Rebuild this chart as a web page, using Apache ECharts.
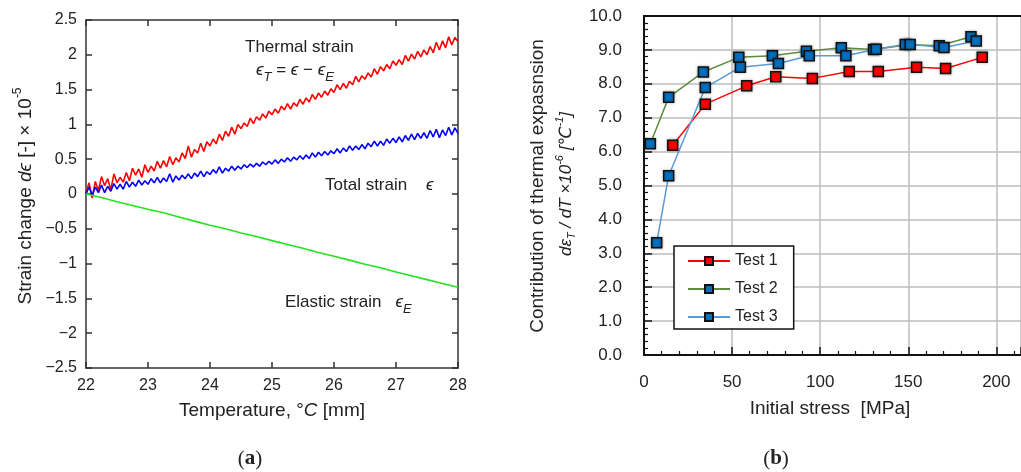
<!DOCTYPE html>
<html><head><meta charset="utf-8">
<script src="https://cdn.jsdelivr.net/npm/echarts@6/dist/echarts.min.js"></script>
<style>html,body{margin:0;padding:0;background:#fff}#c{width:1021px;height:472px}</style>
</head><body><div id="c"></div>
<script>
// ---- (a) strain vs temperature (values in units of 1e-5) ----
const temps = [
22.00,22.05,22.10,22.15,22.20,22.25,22.30,22.35,22.40,22.45,
22.50,22.55,22.60,22.65,22.70,22.75,22.80,22.85,22.90,22.95,
23.00,23.05,23.10,23.15,23.20,23.25,23.30,23.35,23.40,23.45,
23.50,23.55,23.60,23.65,23.70,23.75,23.80,23.85,23.90,23.95,
24.00,24.05,24.10,24.15,24.20,24.25,24.30,24.35,24.40,24.45,
24.50,24.55,24.60,24.65,24.70,24.75,24.80,24.85,24.90,24.95,
25.00,25.05,25.10,25.15,25.20,25.25,25.30,25.35,25.40,25.45,
25.50,25.55,25.60,25.65,25.70,25.75,25.80,25.85,25.90,25.95,
26.00,26.05,26.10,26.15,26.20,26.25,26.30,26.35,26.40,26.45,
26.50,26.55,26.60,26.65,26.70,26.75,26.80,26.85,26.90,26.95,
27.00,27.05,27.10,27.15,27.20,27.25,27.30,27.35,27.40,27.45,
27.50,27.55,27.60,27.65,27.70,27.75,27.80,27.85,27.90,27.95,
28.00];
const thermalStrain = [
0.02,0.16,-0.06,0.18,0.05,0.25,0.12,0.22,0.06,0.29,
0.16,0.24,0.17,0.31,0.19,0.37,0.27,0.36,0.24,0.42,
0.31,0.40,0.33,0.47,0.37,0.48,0.39,0.54,0.42,0.52,
0.46,0.59,0.51,0.69,0.53,0.64,0.59,0.73,0.61,0.75,
0.69,0.79,0.72,0.86,0.77,0.90,0.83,0.96,0.86,1.00,
0.94,1.02,0.97,1.09,1.01,1.11,1.06,1.15,1.09,1.19,
1.14,1.22,1.16,1.26,1.21,1.30,1.22,1.31,1.26,1.36,
1.29,1.38,1.32,1.43,1.36,1.45,1.39,1.48,1.42,1.51,
1.46,1.57,1.50,1.59,1.52,1.62,1.57,1.69,1.61,1.70,
1.65,1.74,1.68,1.80,1.72,1.83,1.77,1.86,1.80,1.91,
1.85,1.93,1.86,1.99,1.91,2.01,1.94,2.05,1.97,2.07,
2.00,2.12,2.03,2.18,2.07,2.20,2.10,2.26,2.14,2.25,
2.19];
const totalStrain = [
0.00,0.10,-0.02,0.10,0.02,0.13,0.02,0.11,0.04,0.15,
0.07,0.14,0.07,0.18,0.10,0.17,0.11,0.20,0.13,0.19,
0.14,0.22,0.16,0.24,0.16,0.23,0.18,0.29,0.17,0.26,
0.20,0.27,0.22,0.29,0.22,0.30,0.25,0.33,0.25,0.32,
0.28,0.35,0.30,0.39,0.30,0.37,0.33,0.40,0.34,0.40,
0.36,0.42,0.38,0.43,0.39,0.44,0.40,0.46,0.42,0.47,
0.43,0.49,0.44,0.50,0.46,0.52,0.47,0.53,0.49,0.55,
0.50,0.56,0.51,0.59,0.53,0.60,0.55,0.61,0.56,0.62,
0.58,0.65,0.59,0.66,0.61,0.69,0.63,0.69,0.64,0.71,
0.65,0.73,0.68,0.76,0.69,0.76,0.70,0.79,0.73,0.80,
0.74,0.82,0.75,0.84,0.77,0.86,0.78,0.87,0.80,0.88,
0.80,0.91,0.82,0.93,0.81,0.92,0.84,0.96,0.85,0.95,
0.87];
const elasticTemps = [22,22.25,22.5,22.75,23,23.25,23.5,23.75,24,24.25,24.5,24.75,25,25.25,25.5,25.75,26,26.25,26.5,26.75,27,27.25,27.5,27.75,28];
const elasticStrain = [0,-0.05,-0.11,-0.165,-0.22,-0.27,-0.33,-0.39,-0.45,-0.50,-0.56,-0.61,-0.67,-0.725,-0.78,-0.84,-0.895,-0.95,-1.01,-1.06,-1.12,-1.175,-1.23,-1.285,-1.34];

// ---- (b) thermal expansion vs initial stress ----
const stress1 = [16.3, 34.8, 58.3, 74.8, 95.6, 116.5, 133, 154.7, 171.2, 192];
const test1   = [6.19, 7.40, 7.94, 8.21, 8.16, 8.36, 8.36, 8.49, 8.45, 8.78];
const stress2 = [3.6, 14, 33.7, 53.8, 72.9, 92.2, 112, 130.3, 148.3, 167.6, 185.6];
const test2   = [6.23, 7.60, 8.35, 8.78, 8.83, 8.96, 9.06, 9.01, 9.16, 9.12, 9.39];
const stress3 = [7.2, 14, 34.8, 54.7, 76.3, 93.8, 114.6, 131.8, 151.1, 170.3, 188.6];
const test3   = [3.31, 5.29, 7.89, 8.49, 8.60, 8.83, 8.83, 9.02, 9.16, 9.07, 9.26];
const seriesNames = ['Test 1', 'Test 2', 'Test 3'];

const zip = (xs, ys) => xs.map((x, i) => [x, ys[i]]);
const FF = 'Liberation Sans, Arial, DejaVu Sans, sans-serif';
const minus = v => String(v).replace('-', '\u2212');

const axL = { onZero: false, lineStyle: { color: '#333', width: 1.5 } };
const tickL = { inside: true, length: 6, lineStyle: { color: '#333', width: 1.5 } };
const axR = { onZero: false, lineStyle: { color: '#111', width: 2 } };
const tickR = { inside: true, length: 8, lineStyle: { color: '#111', width: 1.5 } };
const minorR = { show: true, splitNumber: 5, length: 4, lineStyle: { color: '#111', width: 1.2 } };
const gridLine = { show: true, lineStyle: { color: '#bdbdbd', width: 1.5 } };

function txt(x, y, text, rich, opts) {
  return Object.assign({
    type: 'text', x: x, y: y, z: 100,
    style: Object.assign({ text: text, rich: rich, fill: '#222', align: 'left', verticalAlign: 'middle',
      textAlign: 'left', textVerticalAlign: 'middle', font: '17px ' + FF }, opts && opts.style || {})
  }, opts && opts.el || {});
}
const base = s => ({ fontSize: s, fontFamily: FF, color: '#222' });
const ital = s => ({ fontSize: s, fontFamily: FF, fontStyle: 'italic', color: '#222' });

const chart = echarts.init(document.getElementById('c'), null, { renderer: 'canvas' });
chart.setOption({
  animation: false,
  backgroundColor: '#fff',
  grid: [
    { left: 86, top: 20, width: 372, height: 348, outerBoundsMode: 'none', containLabel: false },
    { left: 644, top: 16, width: 377, height: 339, outerBoundsMode: 'none', containLabel: false }
  ],
  xAxis: [
    { gridIndex: 0, type: 'value', min: 22, max: 28, interval: 1, position: 'bottom',
      axisLine: axL, axisTick: tickL, splitLine: { show: false },
      axisLabel: { fontSize: 16, fontFamily: FF, color: '#222', margin: 10 } },
    { gridIndex: 0, type: 'value', min: 22, max: 28, interval: 1, position: 'top',
      axisLine: axL, axisTick: tickL, splitLine: { show: false }, axisLabel: { show: false } },
    { gridIndex: 1, type: 'value', min: 0, max: 214, interval: 50, position: 'bottom',
      axisLine: axR, axisTick: tickR, minorTick: minorR, splitLine: gridLine,
      axisLabel: { fontSize: 17, fontFamily: FF, color: '#222', margin: 19, showMaxLabel: false } },
    { gridIndex: 1, type: 'value', min: 0, max: 214, interval: 50, position: 'top',
      axisLine: axR, axisTick: { show: false }, splitLine: { show: false }, axisLabel: { show: false } }
  ],
  yAxis: [
    { gridIndex: 0, type: 'value', min: -2.5, max: 2.5, interval: 0.5, position: 'left',
      axisLine: axL, axisTick: tickL, splitLine: { show: false },
      axisLabel: { fontSize: 16, fontFamily: FF, color: '#222', margin: 9, formatter: minus } },
    { gridIndex: 0, type: 'value', min: -2.5, max: 2.5, interval: 0.5, position: 'right',
      axisLine: axL, axisTick: tickL, splitLine: { show: false }, axisLabel: { show: false } },
    { gridIndex: 1, type: 'value', min: 0, max: 10, interval: 1, position: 'left',
      axisLine: axR, axisTick: tickR, minorTick: minorR, splitLine: gridLine,
      axisLabel: { fontSize: 17, fontFamily: FF, color: '#222', margin: 22, formatter: v => v.toFixed(1) } }
  ],
  legend: {
    left: 674, top: 246, orient: 'vertical', data: seriesNames,
    backgroundColor: '#fff', borderColor: '#111', borderWidth: 1.5, borderRadius: 0,
    padding: [6, 16, 3, 13], itemGap: 10, itemWidth: 42, itemHeight: 10,
    textStyle: { fontSize: 16, fontFamily: FF, color: '#222', lineHeight: 18 }
  },
  series: [
    { type: 'line', xAxisIndex: 0, yAxisIndex: 0, data: zip(temps, thermalStrain), showSymbol: false,
      lineStyle: { color: '#ff0000', width: 1.6 }, itemStyle: { color: '#ff0000' } },
    { type: 'line', xAxisIndex: 0, yAxisIndex: 0, data: zip(temps, totalStrain), showSymbol: false,
      lineStyle: { color: '#0000ff', width: 1.6 }, itemStyle: { color: '#0000ff' } },
    { type: 'line', xAxisIndex: 0, yAxisIndex: 0, data: zip(elasticTemps, elasticStrain), showSymbol: false,
      lineStyle: { color: '#22e522', width: 1.6 }, itemStyle: { color: '#22e522' } },
    { name: 'Test 1', type: 'line', xAxisIndex: 2, yAxisIndex: 2, data: zip(stress1, test1),
      symbol: 'rect', symbolSize: 10, lineStyle: { color: '#ff0000', width: 1.5 },
      itemStyle: { color: '#ff0000', borderColor: '#111', borderWidth: 1.5, shadowBlur: 3, shadowColor: 'rgba(0,0,0,0.35)' } },
    { name: 'Test 2', type: 'line', xAxisIndex: 2, yAxisIndex: 2, data: zip(stress2, test2),
      symbol: 'rect', symbolSize: 10, lineStyle: { color: '#5e8c3e', width: 1.5 },
      itemStyle: { color: '#0070c0', borderColor: '#111', borderWidth: 1.5, shadowBlur: 3, shadowColor: 'rgba(0,0,0,0.35)' } },
    { name: 'Test 3', type: 'line', xAxisIndex: 2, yAxisIndex: 2, data: zip(stress3, test3),
      symbol: 'rect', symbolSize: 10, lineStyle: { color: '#5b9bd5', width: 1.5 },
      itemStyle: { color: '#0070c0', borderColor: '#111', borderWidth: 1.5, shadowBlur: 3, shadowColor: 'rgba(0,0,0,0.35)' } }
  ],
  graphic: [
    // left annotations
    txt(245, 47, '{a|Thermal strain}', { a: base(17) }),
    txt(256, 70, '{i|\u03f5}{s|T}{a| = }{i|\u03f5}{a| \u2212 }{i|\u03f5}{s|E}',
      { i: ital(17), a: base(17), s: Object.assign(ital(13), { padding: [14, 0, 0, 0] }) }),
    txt(325, 185, '{a|Total strain}{a|    }{i|\u03f5}', { a: base(17), i: ital(17) }),
    txt(285, 302, '{a|Elastic strain}{a|   }{i|\u03f5}{s|E}',
      { a: base(17), i: ital(17), s: Object.assign(ital(13), { padding: [14, 0, 0, 0] }) }),
    // left axis names
    txt(0, 0, '{a|Strain change }{i|d\u03f5}{a| [-] \u00d7 10}{s|-5}',
      { a: base(19), i: ital(19), s: Object.assign(base(12), { padding: [0, 0, 16, 0] }) },
      { el: { x: 26, y: 196, rotation: Math.PI / 2 }, style: { align: 'center', textAlign: 'center' } }),
    txt(272, 411, '{a|Temperature, \u00b0}{i|C}{a| [mm]}', { a: base(19), i: ital(19) },
      { style: { align: 'center', textAlign: 'center' } }),
    // right axis names
    txt(0, 0, '{a|Contribution of thermal expasnsion}', { a: base(19) },
      { el: { x: 538, y: 186, rotation: Math.PI / 2 }, style: { align: 'center', textAlign: 'center' } }),
    txt(0, 0, '{i|d\u03b5}{s|T}{i| / dT \u00d710}{p|-6}{i| [\u2103}{p|-1}{i|]}',
      { i: ital(17), s: Object.assign(ital(11), { padding: [12, 0, 0, 0] }), p: Object.assign(ital(11), { padding: [0, 0, 12, 0] }) },
      { el: { x: 566, y: 184, rotation: Math.PI / 2 }, style: { align: 'center', textAlign: 'center' } }),
    txt(830, 409, '{a|Initial stress  [MPa]}', { a: base(19) },
      { style: { align: 'center', textAlign: 'center' } }),
    // captions
    txt(250, 459, '{p|(}{b|a}{p|)}', { p: { fontSize: 21, fontFamily: 'Liberation Serif, serif', color: '#111' },
      b: { fontSize: 21, fontFamily: 'Liberation Serif, serif', fontWeight: 'bold', color: '#111' } },
      { style: { align: 'center', textAlign: 'center' } }),
    txt(776, 459, '{p|(}{b|b}{p|)}', { p: { fontSize: 21, fontFamily: 'Liberation Serif, serif', color: '#111' },
      b: { fontSize: 21, fontFamily: 'Liberation Serif, serif', fontWeight: 'bold', color: '#111' } },
      { style: { align: 'center', textAlign: 'center' } })
  ]
});
</script></body></html>
